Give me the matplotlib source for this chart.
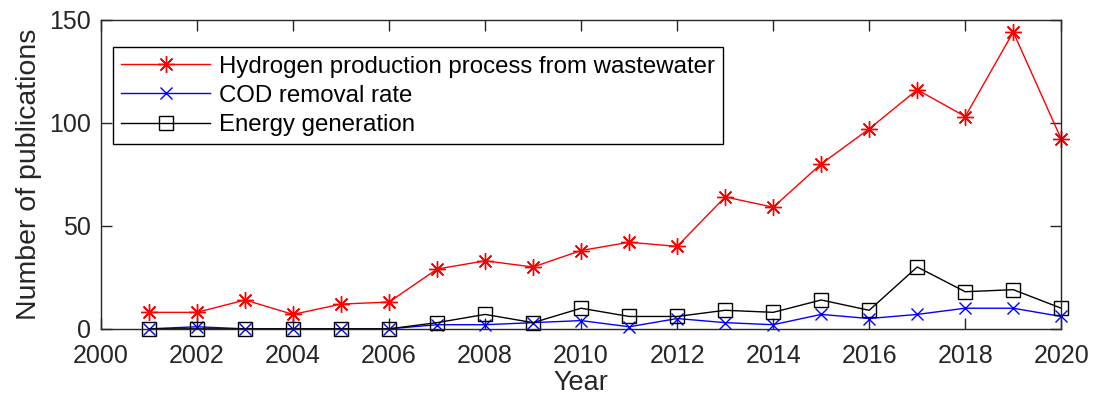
import matplotlib
matplotlib.use("Agg")
import matplotlib.pyplot as plt

plt.rcParams['font.family'] = ['Liberation Sans', 'DejaVu Sans']

years = list(range(2001, 2021))
hydrogen = [8, 8, 14, 7, 12, 13, 29, 33, 30, 38, 42, 40, 64, 59, 80, 97, 116, 103, 144, 92]
cod = [0, 1, 0, 0, 0, 0, 2, 2, 3, 4, 1, 5, 3, 2, 7, 5, 7, 10, 10, 6]
energy = [0, 0, 0, 0, 0, 0, 3, 7, 3, 10, 6, 6, 9, 8, 14, 9, 30, 18, 19, 10]
labels = ['Hydrogen production process from wastewater', 'COD removal rate', 'Energy generation']

fig = plt.figure(figsize=(10.95, 4.09), dpi=100)
ax = fig.add_axes([0.0922, 0.196, 0.877, 0.756])

# matlab style asterisk: 8 spokes
ax.plot(years, hydrogen, '-', color='red', lw=1.0, marker=(8, 2, 0), ms=12, mew=1.0,
        label=labels[0], clip_on=False)
ax.plot(years, cod, '-', color='blue', lw=1.0, marker='x', ms=9, mew=1.0,
        label=labels[1], clip_on=False)
ax.plot(years, energy, '-', color='black', lw=1.0, marker='s', ms=10, mew=1.0,
        mfc='none', label=labels[2], clip_on=False)

ax.set_xlim(2000, 2020)
ax.set_ylim(0, 150)
ax.set_xticks(range(2000, 2021, 2))
ax.set_yticks([0, 50, 100, 150])

dark = '#262626'
ax.tick_params(direction='in', top=True, right=True, length=8, width=1.0,
               labelsize=18, colors=dark)
ax.tick_params(axis='x', pad=11)
ax.tick_params(axis='y', pad=7)
for s in ax.spines.values():
    s.set_color(dark)
    s.set_linewidth(1.0)

ax.set_xlabel('Year', fontsize=19.5, color=dark, labelpad=1)
ax.set_ylabel('Number of publications', fontsize=20.5, color=dark, labelpad=5)

leg = ax.legend(loc='upper left', bbox_to_anchor=(0.0125, 0.911), borderaxespad=0,
                fontsize=17.3, handlelength=3.7, fancybox=False, framealpha=1,
                edgecolor='black', borderpad=0.35, labelspacing=0.3, handletextpad=0.35)
leg.get_frame().set_linewidth(1.0)
leg.set_zorder(1)

fig.savefig('out.png', dpi=100)
